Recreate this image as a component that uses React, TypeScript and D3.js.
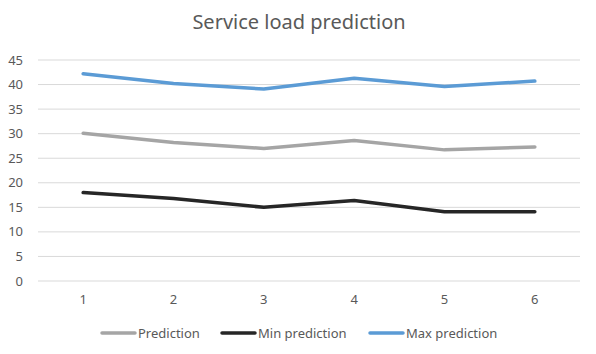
import React from "react";
import * as d3 from "d3";

const categories = ["1", "2", "3", "4", "5", "6"];
const prediction = [30.1, 28.2, 27.0, 28.6, 26.7, 27.3];
const minPrediction = [18.0, 16.8, 15.0, 16.4, 14.1, 14.1];
const maxPrediction = [42.2, 40.2, 39.1, 41.3, 39.6, 40.7];
const yTicks = [0, 5, 10, 15, 20, 25, 30, 35, 40, 45];

const seriesNames = ["Prediction", "Min prediction", "Max prediction"];
const seriesColors = ["#A5A5A5", "#262626", "#5B9BD5"];

const W = 596;
const H = 354;
const font = "'Noto Sans', 'Open Sans', sans-serif";

export default function App() {
  const series = [prediction, minPrediction, maxPrediction];

  const x = d3.scaleBand().domain(categories).range([38, 580]);
  const y = d3.scaleLinear().domain([0, 45]).range([281, 60]);

  const line = d3
    .line<number>()
    .x((_, i) => x(categories[i])! + x.bandwidth() / 2)
    .y((d) => y(d));

  const legendX = [102, 222, 370];

  return (
    <div style={{ position: "absolute", left: 0, top: 0 }}>
      <svg width={W} height={H} style={{ display: "block", background: "#fff" }}>
        <text x={299} y={29} textAnchor="middle" fontFamily={font} fontSize={20} fill="#595959">
          Service load prediction
        </text>
        {yTicks.map((t) => (
          <g key={t}>
            <line x1={38} x2={580} y1={y(t)} y2={y(t)} stroke="#D9D9D9" strokeWidth={1} />
            <text x={23} y={y(t) + 4.5} textAnchor="end" fontFamily={font} fontSize={13} fill="#595959">
              {t}
            </text>
          </g>
        ))}
        {categories.map((c) => (
          <text
            key={c}
            x={x(c)! + x.bandwidth() / 2}
            y={304}
            textAnchor="middle"
            fontFamily={font}
            fontSize={13}
            fill="#595959"
          >
            {c}
          </text>
        ))}
        {series.map((s, i) => (
          <path
            key={seriesNames[i]}
            d={line(s)!}
            fill="none"
            stroke={seriesColors[i]}
            strokeWidth={3.5}
            strokeLinejoin="round"
            strokeLinecap="round"
          />
        ))}
        {seriesNames.map((n, i) => (
          <g key={n}>
            <line
              x1={legendX[i]}
              x2={legendX[i] + 33}
              y1={333}
              y2={333}
              stroke={seriesColors[i]}
              strokeWidth={3.5}
              strokeLinecap="round"
            />
            <text x={legendX[i] + 36} y={337.5} fontFamily={font} fontSize={13} fill="#595959">
              {n}
            </text>
          </g>
        ))}
      </svg>
    </div>
  );
}
